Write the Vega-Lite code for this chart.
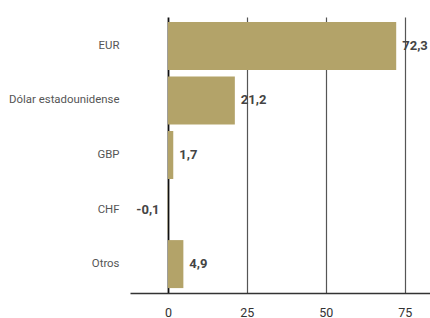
{
  "$schema": "https://vega.github.io/schema/vega-lite/v6.json",
  "width": 300,
  "height": 276,
  "autosize": "none",
  "padding": {"left": 130, "top": 17, "right": 0, "bottom": 25},
  "config": {
    "view": {"stroke": null},
    "font": "Roboto",
    "locale": {"number": {"decimal": ",", "thousands": ".", "grouping": [3], "currency": ["", " €"], "minus": "-"}}
  },
  "data": {"values": [
    {"moneda": "EUR", "valor": 72.3},
    {"moneda": "Dólar estadounidense", "valor": 21.2},
    {"moneda": "GBP", "valor": 1.7},
    {"moneda": "CHF", "valor": -0.1},
    {"moneda": "Otros", "valor": 4.9}
  ]},
  "encoding": {
    "y": {"field": "moneda", "type": "nominal", "sort": null,
      "scale": {"paddingInner": 0.12, "paddingOuter": 0.09},
      "axis": {"title": null, "domain": false, "ticks": false, "labelPadding": 11, "labelFontSize": 11.4, "labelColor": "#555", "labelFont": "Roboto"}},
    "x": {"field": "valor", "type": "quantitative",
      "scale": {"domain": [-12, 83], "nice": false, "zero": false},
      "axis": {"title": null, "values": [0, 25, 50, 75], "ticks": false, "domainColor": "#333", "domainWidth": 1.5,
        "grid": true, "gridColor": {"condition": {"test": "datum.value === 0", "value": "#111"}, "value": "#555"},
        "gridWidth": {"condition": {"test": "datum.value === 0", "value": 1.8}, "value": 1.2},
        "labelFontSize": 12.5, "labelColor": "#333", "labelPadding": 13, "format": "d"}}
  },
  "layer": [
    {"mark": {"type": "bar", "color": "#b3a369"}},
    {"transform": [{"filter": "datum.valor >= 0"}],
      "mark": {"type": "text", "align": "left", "dx": 6, "fontWeight": "bold", "fontSize": 13, "color": "#444"},
      "encoding": {"text": {"field": "valor", "type": "quantitative", "format": ".1f"}}},
    {"transform": [{"filter": "datum.valor < 0"}],
      "mark": {"type": "text", "align": "right", "dx": -8, "fontWeight": "bold", "fontSize": 13, "color": "#444"},
      "encoding": {"text": {"field": "valor", "type": "quantitative", "format": ".1f"}}}
  ]
}
